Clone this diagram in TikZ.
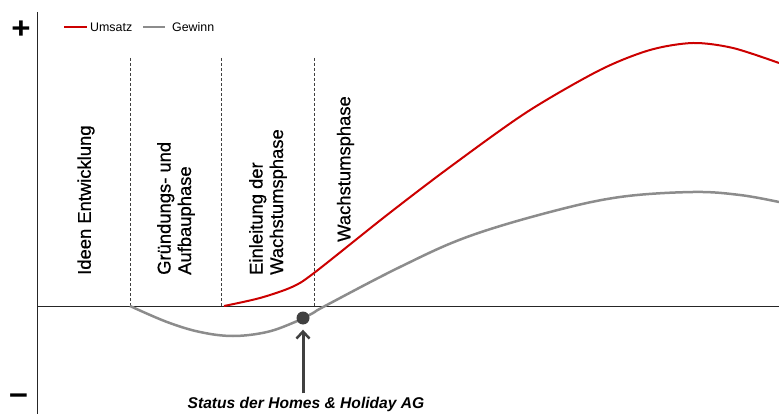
\documentclass[tikz,border=0pt]{standalone}
\usepackage{fontspec}
\setmainfont{Liberation Sans}
\newfontfamily\phasefont[FakeBold=0.6]{Liberation Sans}
\usetikzlibrary{arrows.meta}
\definecolor{umsatz}{HTML}{CC0000}
\definecolor{gewinn}{HTML}{8C8C8C}
\definecolor{dark}{HTML}{404040}
\begin{document}
\begin{tikzpicture}[x=1pt,y=-1pt,
  axis/.style={line width=1.5pt,draw=black!85},
  phaseline/.style={line width=1pt,draw=dark,dash pattern=on 3pt off 2pt},
  phasetext/.style={rotate=90,anchor=west,inner sep=0pt,align=left,font=\phasefont\fontsize{18.4}{20.5}\selectfont},
  legtext/.style={anchor=west,inner sep=0pt,font=\fontsize{12.4}{14}\selectfont},
  umsatzline/.style={line width=2pt,draw=umsatz},
  gewinnline/.style={line width=2.5pt,draw=gewinn},
  sign/.style={inner sep=0pt,font=\bfseries\fontsize{30}{30}\selectfont}]
\useasboundingbox (0,0) rectangle (779,414);
% axes
\coordinate (ytop) at (37.5,12);
\coordinate (ybot) at (37.5,414);
\coordinate (xl) at (37.5,306.5);
\coordinate (xr) at (779,306.5);
\draw[axis] (ytop) -- (ybot);
\draw[axis] (xl) -- (xr);
\node[sign,xscale=1.1] (plus) at (21,29.5) {+};
\node[sign,xscale=1.1] (minus) at (18.5,399.5) {−};
% phase separators
\foreach \x/\n in {130/a,221/b,314/c}{
  \coordinate (t\n) at (\x,58);
  \coordinate (b\n) at (\x,306);
  \draw[phaseline] (t\n) -- (b\n);
}
% phase labels
\node[phasetext] (p1) at (86,275) {Ideen Entwicklung};
\node[phasetext] (p2) at (176,275) {Gründungs- und\\Aufbauphase};
\node[phasetext] (p3) at (268,275) {Einleitung der\\Wachstumsphase};
\node[phasetext] (p4) at (345.5,242) {Wachstumsphase};
% legend
\coordinate (l1a) at (64,27.5);
\coordinate (l1b) at (87,27.5);
\coordinate (l2a) at (143,27.5);
\coordinate (l2b) at (165,27.5);
\draw[line width=2pt,draw=umsatz] (l1a) -- (l1b);
\draw[line width=2pt,draw=gewinn] (l2a) -- (l2b);
\node[legtext] (lu) at (90,27.5) {Umsatz};
\node[legtext] (lg) at (172,27.5) {Gewinn};
% curves
\draw[gewinnline] plot[smooth,tension=0.6] coordinates {
  (130,306) (167,322) (200,332) (233,336) (267,332) (295,322) (313,313) (325,306)
  (400,267) (467,237) (550,212) (620,197) (693,192) (740,195) (779,202)};
\draw[umsatzline] plot[smooth,tension=0.5] coordinates {
  (224,306) (260,298) (292,287) (314,273) (387,215) (450,167) (527,112)
  (600,70) (650,50) (693,43) (733,48) (779,63)};
% status marker
\node[circle,fill=dark,inner sep=0pt,minimum size=13pt] (dot) at (303,318) {};
\node[anchor=base,inner sep=1pt,font=\bfseries\itshape\fontsize{15.6}{18}\selectfont] (status) at (306,408) {Status der Homes \& Holiday AG};
\draw[line width=3pt,draw=dark,-{Straight Barb[length=7pt,width=13pt,line width=2.5pt]},shorten >=5pt,shorten <=2pt] (dot |- status.north) -- (dot.south);
\end{tikzpicture}
\end{document}
